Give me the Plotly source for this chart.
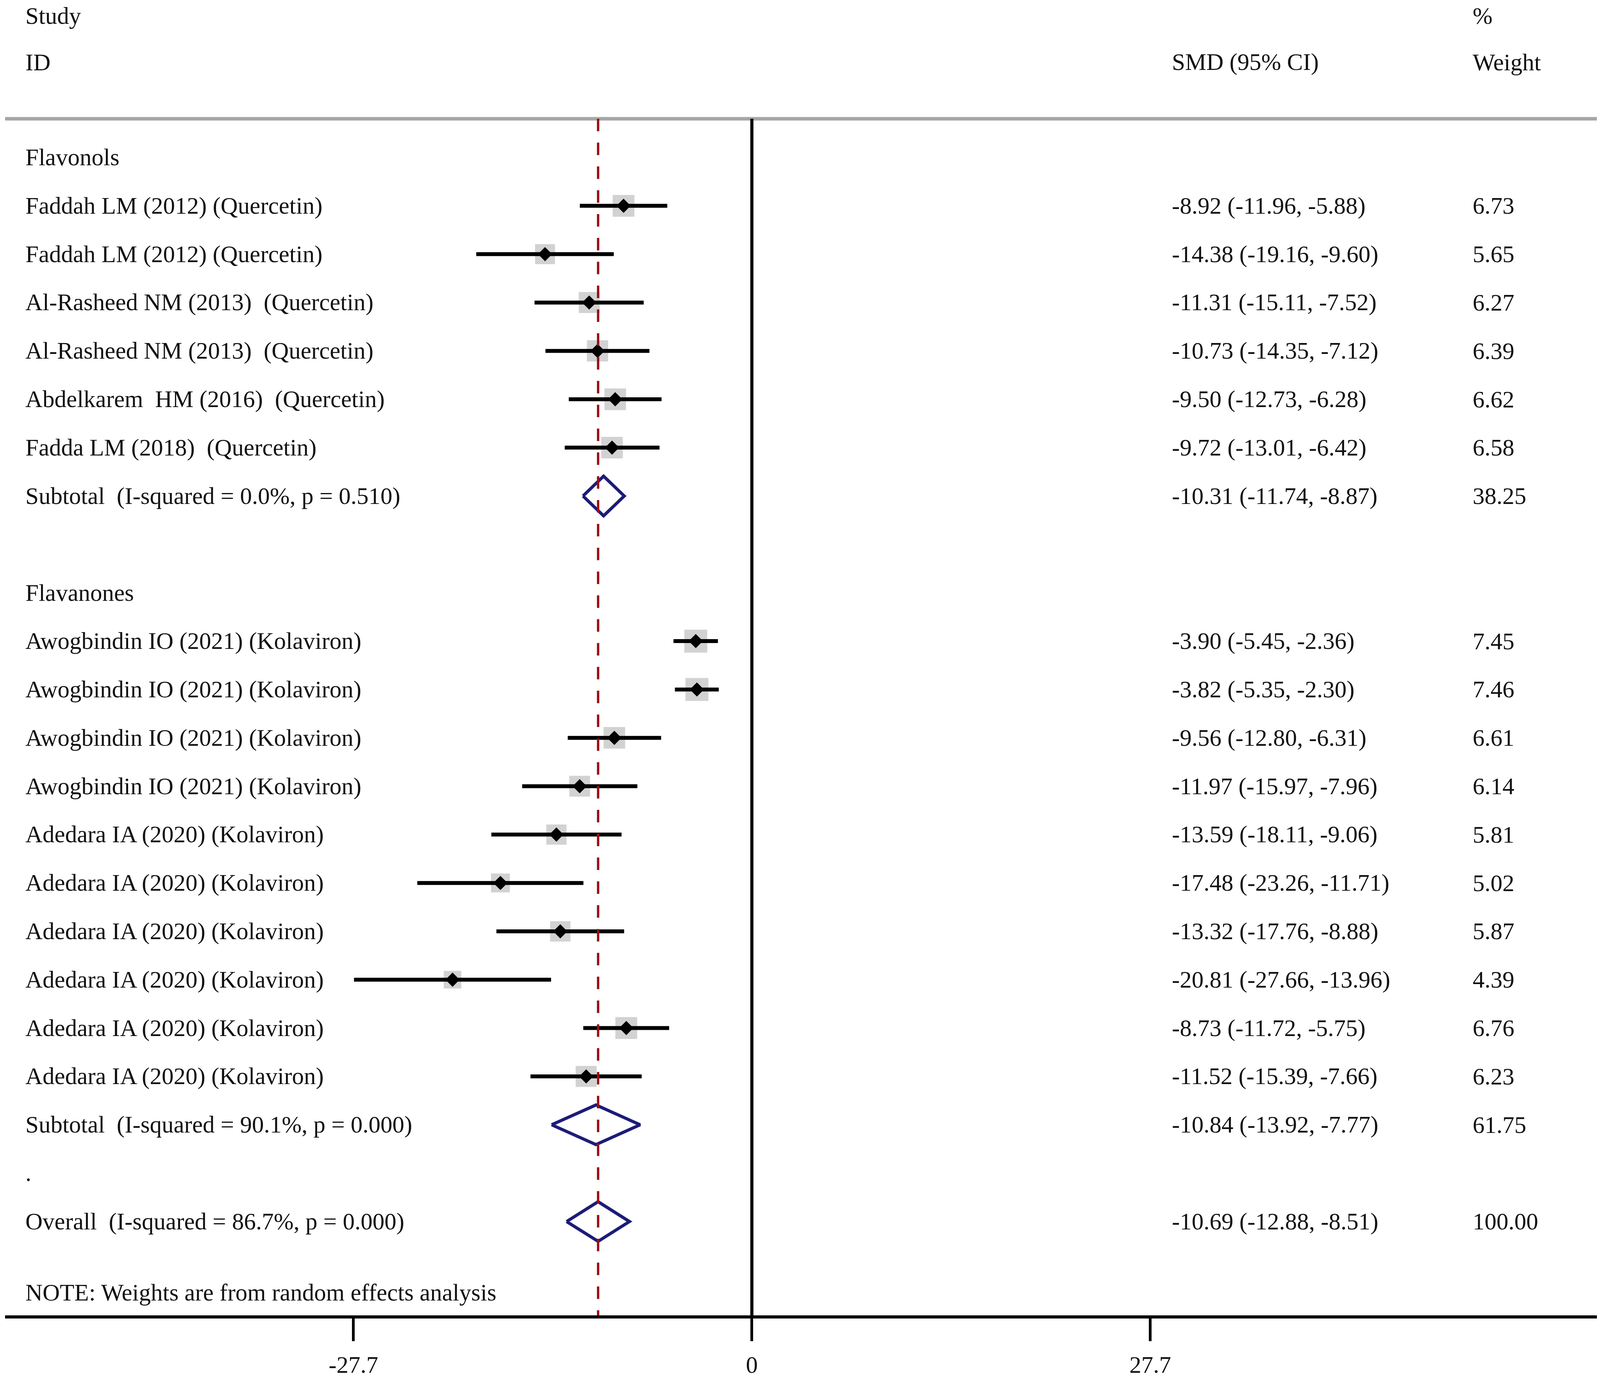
import plotly.graph_objects as go

# study level data
flavonol_studies = ["Faddah LM (2012) (Quercetin)", "Faddah LM (2012) (Quercetin)",
                    "Al-Rasheed NM (2013)\u00a0 (Quercetin)", "Al-Rasheed NM (2013)\u00a0 (Quercetin)",
                    "Abdelkarem\u00a0 HM (2016)\u00a0 (Quercetin)", "Fadda LM (2018)\u00a0 (Quercetin)"]
flavonol_smd = [-8.92, -14.38, -11.31, -10.73, -9.50, -9.72]
flavonol_lo = [-11.96, -19.16, -15.11, -14.35, -12.73, -13.01]
flavonol_hi = [-5.88, -9.60, -7.52, -7.12, -6.28, -6.42]
flavonol_w = [6.73, 5.65, 6.27, 6.39, 6.62, 6.58]

flavanone_studies = ["Awogbindin IO (2021) (Kolaviron)"] * 4 + ["Adedara IA (2020) (Kolaviron)"] * 6
flavanone_smd = [-3.90, -3.82, -9.56, -11.97, -13.59, -17.48, -13.32, -20.81, -8.73, -11.52]
flavanone_lo = [-5.45, -5.35, -12.80, -15.97, -18.11, -23.26, -17.76, -27.66, -11.72, -15.39]
flavanone_hi = [-2.36, -2.30, -6.31, -7.96, -9.06, -11.71, -8.88, -13.96, -5.75, -7.66]
flavanone_w = [7.45, 7.46, 6.61, 6.14, 5.81, 5.02, 5.87, 4.39, 6.76, 6.23]

# pooled estimates
pooled_labels = ["Subtotal\u00a0 (I-squared = 0.0%, p = 0.510)",
                 "Subtotal\u00a0 (I-squared = 90.1%, p = 0.000)",
                 "Overall\u00a0 (I-squared = 86.7%, p = 0.000)"]
pooled_smd = [-10.31, -10.84, -10.69]
pooled_lo = [-11.74, -13.92, -12.88]
pooled_hi = [-8.87, -7.77, -8.51]
pooled_w = [38.25, 61.75, 100.00]

tick_vals = [-27.7, 0, 27.7]
tick_text = ["-27.7", "0", "27.7"]

FONT = "Liberation Serif"
FS = 61
X_LABEL, X_EST, X_WT = -50.57, 29.16, 50.07

# build the row layout
rows = []  # (kind, label, smd, lo, hi, w)
rows.append(("head", "Flavonols", None, None, None, None))
for i in range(len(flavonol_smd)):
    rows.append(("study", flavonol_studies[i], flavonol_smd[i], flavonol_lo[i], flavonol_hi[i], flavonol_w[i]))
rows.append(("pool", pooled_labels[0], pooled_smd[0], pooled_lo[0], pooled_hi[0], pooled_w[0]))
rows.append(("blank", "", None, None, None, None))
rows.append(("head", "Flavanones", None, None, None, None))
for i in range(len(flavanone_smd)):
    rows.append(("study", flavanone_studies[i], flavanone_smd[i], flavanone_lo[i], flavanone_hi[i], flavanone_w[i]))
rows.append(("pool", pooled_labels[1], pooled_smd[1], pooled_lo[1], pooled_hi[1], pooled_w[1]))
rows.append(("head", ".", None, None, None, None))
rows.append(("pool", pooled_labels[2], pooled_smd[2], pooled_lo[2], pooled_hi[2], pooled_w[2]))

ci_x, ci_y = [], []
pt_x, pt_y, box_size = [], [], []
dia_x, dia_y = [], []
annotations = []

def add_text(x, y, text):
    annotations.append(dict(x=x, y=y, xref="x", yref="y", text=text, showarrow=False,
                            xanchor="left", yanchor="middle",
                            font=dict(family=FONT, size=FS, color="#111111")))

for r, (kind, label, smd, lo, hi, w) in enumerate(rows):
    if label:
        add_text(X_LABEL, r, label)
    if kind == "study":
        ci_x += [lo, hi, None]
        ci_y += [r, r, None]
        pt_x.append(smd)
        pt_y.append(r)
        box_size.append(21.5 * w ** 0.5)
    if kind == "pool":
        dia_x += [lo, smd, hi, smd, lo, None]
        dia_y += [r, r - 0.41, r, r + 0.41, r, None]
    if kind in ("study", "pool"):
        add_text(X_EST, r, f"{smd:.2f} ({lo:.2f}, {hi:.2f})")
        add_text(X_WT, r, f"{w:.2f}")

# header and footnote
add_text(X_LABEL, -2.93, "Study")
add_text(X_LABEL, -1.97, "ID")
add_text(X_EST, -1.97, "SMD (95% CI)")
add_text(X_WT, -2.93, "%")
add_text(X_WT, -1.97, "Weight")
add_text(X_LABEL, 23.47, "NOTE: Weights are from random effects analysis")

fig = go.Figure()
fig.add_trace(go.Scatter(x=pt_x, y=pt_y, mode="markers",
                         marker=dict(symbol="square", size=box_size, color="#bfbfbf", line=dict(width=0))))
fig.add_trace(go.Scatter(x=ci_x, y=ci_y, mode="lines", line=dict(color="black", width=10)))
fig.add_trace(go.Scatter(x=pt_x, y=pt_y, mode="markers",
                         marker=dict(symbol="diamond", size=28, color="black")))
fig.add_trace(go.Scatter(x=dia_x, y=dia_y, mode="lines", line=dict(color="#1c1c78", width=8)))

overall = pooled_smd[2]
fig.add_shape(type="line", x0=-60, x1=70, y0=-0.8, y1=-0.8, xref="x", yref="y",
              line=dict(color="#a6a6a6", width=9), layer="below")
fig.add_shape(type="line", x0=0, x1=0, y0=-0.8, y1=23.94, xref="x", yref="y",
              line=dict(color="black", width=8))
fig.add_shape(type="line", x0=overall, x1=overall, y0=-0.8, y1=23.94, xref="x", yref="y",
              line=dict(color="#9a0f14", width=6, dash="32px,29px"))

# the browser viewport is 4096 px wide, so the page is sized to fill it exactly
fig.update_layout(
    width=4080, height=3519,
    margin=dict(l=5, r=0, t=0, b=153),
    paper_bgcolor="white", plot_bgcolor="white",
    showlegend=False,
    annotations=annotations,
    xaxis=dict(range=[-51.92, 58.75], showgrid=False, zeroline=False,
               showline=True, linecolor="black", linewidth=8,
               tickmode="array", tickvals=tick_vals, ticktext=tick_text,
               ticks="outside", ticklen=58, tickwidth=7, tickcolor="black",
               ticklabelstandoff=8,
               tickfont=dict(family=FONT, size=FS, color="#111111")),
    yaxis=dict(range=[23.94, -3.19], showgrid=False, zeroline=False,
               showticklabels=False, showline=False),
)

fig.write_html("out.html")
